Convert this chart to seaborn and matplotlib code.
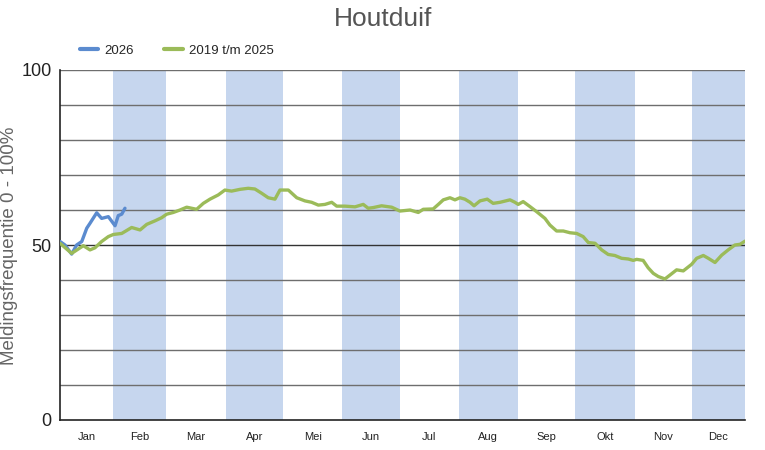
import numpy as np
import pandas as pd
import matplotlib
matplotlib.use("Agg")
import matplotlib.pyplot as plt
import seaborn as sns
from matplotlib.lines import Line2D

# ---- data ----
months = ["Jan", "Feb", "Mar", "Apr", "Mei", "Jun", "Jul", "Aug", "Sep", "Okt", "Nov", "Dec"]
month_starts = [0, 31, 59, 90, 120, 151, 181, 212, 243, 273, 304, 334, 365]

days_hist = [3.3, 9.4, 15.5, 19, 21.6, 25.1, 28.6, 31.2, 35.6, 40.8, 45.2, 48.7, 53, 56.5, 59.1,
             62.6, 66.1, 69.6, 72.2, 74.8, 78.3, 81.8, 86.1, 89.6, 93.1, 97.5, 101.8, 105.3,
             108.8, 112.3, 115.8, 118.4, 122.8, 127.2, 131.5, 135, 138.5, 142, 145.5, 148.1,
             152.4, 157.7, 162, 164.6, 167.3, 171.6, 176.9, 181.2, 186.5, 190.8, 193.4, 198.6,
             201.3, 203.9, 207.4, 210, 212.6, 215.2, 217.9, 220, 223.1, 226.9, 230, 233.6,
             238.8, 241.4, 243.1, 245.7, 249.2, 252.8, 257.1, 259.7, 263.2, 266.7, 270.2,
             273.7, 277.1, 279.8, 283.3, 286.8, 290.2, 293.7, 297.2, 300.7, 303.3, 305.1,
             308.5, 311.1, 313.8, 316.4, 319.9, 322.5, 326, 329.5, 333.9, 336.5, 340, 342.6,
             346.1, 349.6, 353, 356.5, 359.2, 361.8]
vals_hist = [50.5, 47.6, 49.8, 48.6, 49.2, 51, 52.4, 53, 53.3, 55, 54.3, 55.9, 56.9, 57.8, 58.8,
             59.3, 60, 60.8, 60.5, 60.2, 61.9, 63.1, 64.3, 65.7, 65.4, 65.9, 66.2, 66,
             64.8, 63.5, 63.1, 65.7, 65.7, 63.5, 62.6, 62.2, 61.4, 61.6, 62.2, 61.1,
             61.1, 60.9, 61.6, 60.5, 60.7, 61.2, 60.8, 59.7, 60, 59.3, 60.2, 60.3,
             61.6, 62.9, 63.5, 62.9, 63.5, 63.1, 62.2, 61.2, 62.6, 63.1, 61.9, 62.2,
             62.9, 62.2, 61.6, 62.4, 61, 59.5, 57.6, 55.7, 54, 54, 53.5,
             53.3, 52.4, 50.7, 50.5, 48.6, 47.3, 47, 46.2, 46, 45.6, 45.9,
             45.6, 43.5, 41.9, 41, 40.3, 41.4, 42.9, 42.6, 44.5, 46.2, 47, 46.2,
             45, 47.1, 48.6, 50, 50.2, 51.1]

days_2026 = [3.3, 5.9, 9.4, 12, 14.7, 17.3, 19, 22.5, 25.1, 28.6, 32.1, 33.8, 35.6, 37.3]
vals_2026 = [51, 50, 47.4, 50, 51, 54.8, 56.2, 59.2, 57.6, 58.1, 55.5, 58.4, 58.8, 60.5]

series_names = ["2026", "2019 t/m 2025"]

df = pd.concat([
    pd.DataFrame({"dag": days_2026, "waarde": vals_2026, "reeks": series_names[0]}),
    pd.DataFrame({"dag": days_hist, "waarde": vals_hist, "reeks": series_names[1]}),
])

# ---- style ----
sns.set_style("white")
plt.rcParams["font.family"] = ["Liberation Sans", "DejaVu Sans"]

fig = plt.figure(figsize=(7.65, 4.5), dpi=100)
ax = fig.add_axes([60 / 765, 30 / 450, 685 / 765, 350 / 450])

shade = "#C6D6EE"
for i in range(1, 12, 2):
    ax.axvspan(month_starts[i], month_starts[i + 1], color=shade, lw=0, zorder=0)

for v in range(10, 100, 10):
    ax.axhline(v, color="#333333" if v == 50 else "#6e6e6e", lw=1, zorder=1)
ax.axhline(100, color="#6e6e6e", lw=1, zorder=1)

palette = {series_names[0]: "#5B8BCF", series_names[1]: "#9BBB59"}
sns.lineplot(data=df, x="dag", y="waarde", hue="reeks", palette=palette,
             hue_order=series_names, linewidth=2.4, ax=ax, legend=False,
             estimator=None, sort=False, zorder=3)

ax.set_xlim(3.3, 361.8)
ax.set_ylim(0, 100)
ax.set_yticks([0, 50, 100])
ax.set_yticklabels(["0", "50", "100"], fontsize=13, color="#222222")
ax.tick_params(axis="y", length=0, pad=6)

ax.set_xticks(month_starts[1:12])
ax.set_xticklabels([])
ax.tick_params(axis="x", which="major", direction="out", length=16, width=1, color="#222222")
centers = [(max(month_starts[i], 3.3) + min(month_starts[i + 1], 361.8)) / 2 for i in range(12)]
ax.set_xticks(centers, minor=True)
ax.set_xticklabels(months, minor=True, fontsize=8, color="#222222")
ax.tick_params(axis="x", which="minor", length=0, pad=9)

for s in ["top", "right"]:
    ax.spines[s].set_visible(False)
for s in ["left", "bottom"]:
    ax.spines[s].set_color("#222222")
    ax.spines[s].set_linewidth(1.2)

ax.set_xlabel("")
ax.set_ylabel("")
fig.text(10 / 765, 1 - 246 / 450, "Meldingsfrequentie 0 - 100%", rotation=90,
         ha="center", va="center", fontsize=13.5, color="#666666")

fig.suptitle("Houtduif", x=383 / 765, y=0.985, fontsize=19, color="#555555")

handles = [Line2D([0], [0], color=palette[n], lw=3) for n in series_names]
fig.legend(handles, series_names, loc="center left", bbox_to_anchor=(68 / 765, 1 - 51 / 450),
           ncol=2, frameon=False, fontsize=9.5, handlelength=1.4, columnspacing=2.3,
           handletextpad=0.45)

fig.savefig("out.png", dpi=100)
